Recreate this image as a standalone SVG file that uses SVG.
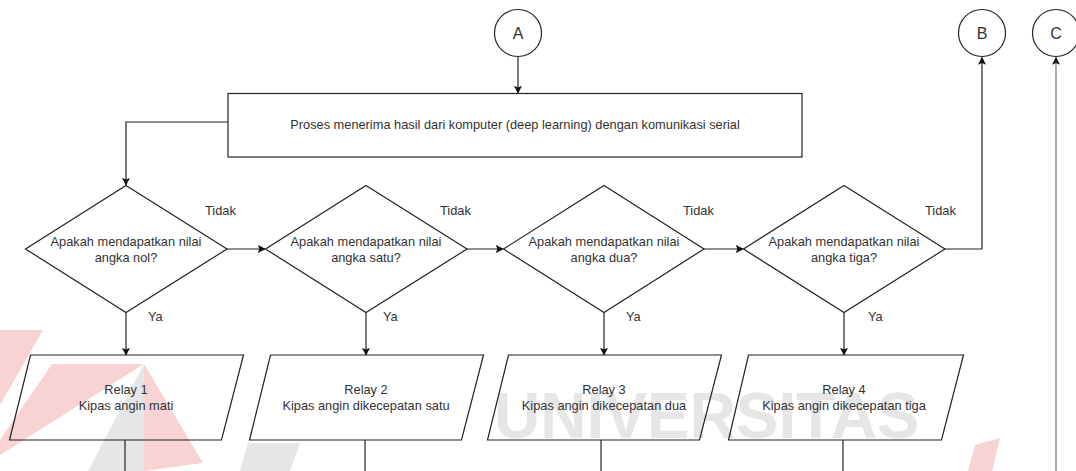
<svg xmlns="http://www.w3.org/2000/svg" width="1076" height="471" viewBox="0 0 1076 471">
<defs>
<style>
.shape{fill:none;stroke:#222;stroke-width:1.2}
.conn{fill:none;stroke:#222;stroke-width:1.2}
.t{font-family:"Liberation Sans",Arial,sans-serif;font-size:12.8px;fill:#333;text-anchor:middle}
.lbl{font-family:"Liberation Sans",Arial,sans-serif;font-size:12.8px;fill:#333}
.big{font-family:"Liberation Sans",Arial,sans-serif;font-size:16px;fill:#333;text-anchor:middle}
.wm{font-family:"Liberation Sans",Arial,sans-serif;font-size:64px;font-weight:bold;fill:#e2e2e2}
</style>
<marker id="ah" viewBox="0 0 10 10" refX="9" refY="5" markerWidth="8" markerHeight="8" markerUnits="userSpaceOnUse" orient="auto">
<path d="M0,0 L10,5 L0,10 L2,5 Z" fill="#111"/>
</marker>
</defs>
<rect width="1076" height="471" fill="#fff"/>
<g id="watermark" opacity="0.85">
<polygon points="0,330 43,330 0,405" fill="#f7cccc"/>
<polygon points="52,364 144,364 0,455 0,440" fill="#f7cccc"/>
<polygon points="144,364 203,463 144,471" fill="#f7cccc"/>
<polygon points="144,364 144,471 88,471" fill="#e2e2e2"/>
<polygon points="248,443 300,443 290,471 240,471" fill="#e2e2e2"/>
<polygon points="975,445 1000,438 992,471 968,471" fill="#f7cccc"/>
<text class="wm" x="494" y="438">UNIVERSITAS</text>
</g>
<g id="connectors">
<line class="conn" x1="518" y1="57" x2="518" y2="93" marker-end="url(#ah)"/>
<path class="conn" d="M228,122 H126 V185" marker-end="url(#ah)"/>
<line class="conn" x1="227" y1="249" x2="265" y2="249" marker-end="url(#ah)"/>
<line class="conn" x1="467" y1="249" x2="503" y2="249" marker-end="url(#ah)"/>
<line class="conn" x1="704" y1="249" x2="743" y2="249" marker-end="url(#ah)"/>
<path class="conn" d="M945,249 H982 V57.5" marker-end="url(#ah)"/>
<line class="conn" x1="126" y1="312.5" x2="126" y2="355" marker-end="url(#ah)"/>
<line class="conn" x1="366" y1="312.5" x2="366" y2="355" marker-end="url(#ah)"/>
<line class="conn" x1="604" y1="312.5" x2="604" y2="355" marker-end="url(#ah)"/>
<line class="conn" x1="844" y1="312.5" x2="844" y2="355" marker-end="url(#ah)"/>
<line class="conn" x1="125" y1="440" x2="125" y2="471"/>
<line class="conn" x1="365" y1="440" x2="365" y2="471"/>
<line class="conn" x1="601" y1="440" x2="601" y2="471"/>
<line class="conn" x1="843" y1="440" x2="843" y2="471"/>
<line class="conn" x1="1056" y1="471" x2="1056" y2="57.5" style="stroke:#777" marker-end="url(#ah)"/>
<text class="lbl" x="205" y="215">Tidak</text>
<text class="lbl" x="440" y="215">Tidak</text>
<text class="lbl" x="683" y="215">Tidak</text>
<text class="lbl" x="925" y="215">Tidak</text>
<text class="lbl" x="148" y="321">Ya</text>
<text class="lbl" x="383" y="321">Ya</text>
<text class="lbl" x="626" y="321">Ya</text>
<text class="lbl" x="868" y="321">Ya</text>
</g>
<g id="nodeA">
<circle class="shape" cx="518" cy="33" r="23.5" fill="#fff"/>
<text class="big" x="518" y="39">A</text>
</g>
<g id="nodeB">
<circle class="shape" cx="982" cy="33" r="23.5"/>
<text class="big" x="982" y="39">B</text>
</g>
<g id="nodeC">
<circle class="shape" cx="1056" cy="33" r="23.5"/>
<text class="big" x="1056" y="39">C</text>
</g>
<g id="proses">
<rect class="shape" x="228" y="93.5" width="574" height="63.5"/>
<text class="t" x="515" y="129">Proses menerima hasil dari komputer (deep learning) dengan komunikasi serial</text>
</g>
<g id="decision1">
<polygon class="shape" points="126,185.5 227,249 126,312.5 25.5,249"/>
<text class="t" x="126" y="246">Apakah mendapatkan nilai</text>
<text class="t" x="126" y="262">angka nol?</text>
</g>
<g id="decision2">
<polygon class="shape" points="366,185.5 467,249 366,312.5 265.5,249"/>
<text class="t" x="366" y="246">Apakah mendapatkan nilai</text>
<text class="t" x="366" y="262">angka satu?</text>
</g>
<g id="decision3">
<polygon class="shape" points="604,185.5 704,249 604,312.5 503.5,249"/>
<text class="t" x="604" y="246">Apakah mendapatkan nilai</text>
<text class="t" x="604" y="262">angka dua?</text>
</g>
<g id="decision4">
<polygon class="shape" points="844,185.5 945,249 844,312.5 743.5,249"/>
<text class="t" x="844" y="246">Apakah mendapatkan nilai</text>
<text class="t" x="844" y="262">angka tiga?</text>
</g>
<g id="relay1">
<polygon class="shape" points="30.5,355 243.5,355 221.5,440 9.5,440"/>
<text class="t" x="126" y="394">Relay 1</text>
<text class="t" x="126" y="410">Kipas angin mati</text>
</g>
<g id="relay2">
<polygon class="shape" points="270.5,355 483.5,355 461.5,440 249.5,440"/>
<text class="t" x="366" y="394">Relay 2</text>
<text class="t" x="366" y="410">Kipas angin dikecepatan satu</text>
</g>
<g id="relay3">
<polygon class="shape" points="508.5,355 721.5,355 699.5,440 487.5,440"/>
<text class="t" x="604" y="394">Relay 3</text>
<text class="t" x="604" y="410">Kipas angin dikecepatan dua</text>
</g>
<g id="relay4">
<polygon class="shape" points="748.5,355 963.5,355 941.5,440 728.5,440"/>
<text class="t" x="844" y="394">Relay 4</text>
<text class="t" x="844" y="410">Kipas angin dikecepatan tiga</text>
</g>
</svg>
